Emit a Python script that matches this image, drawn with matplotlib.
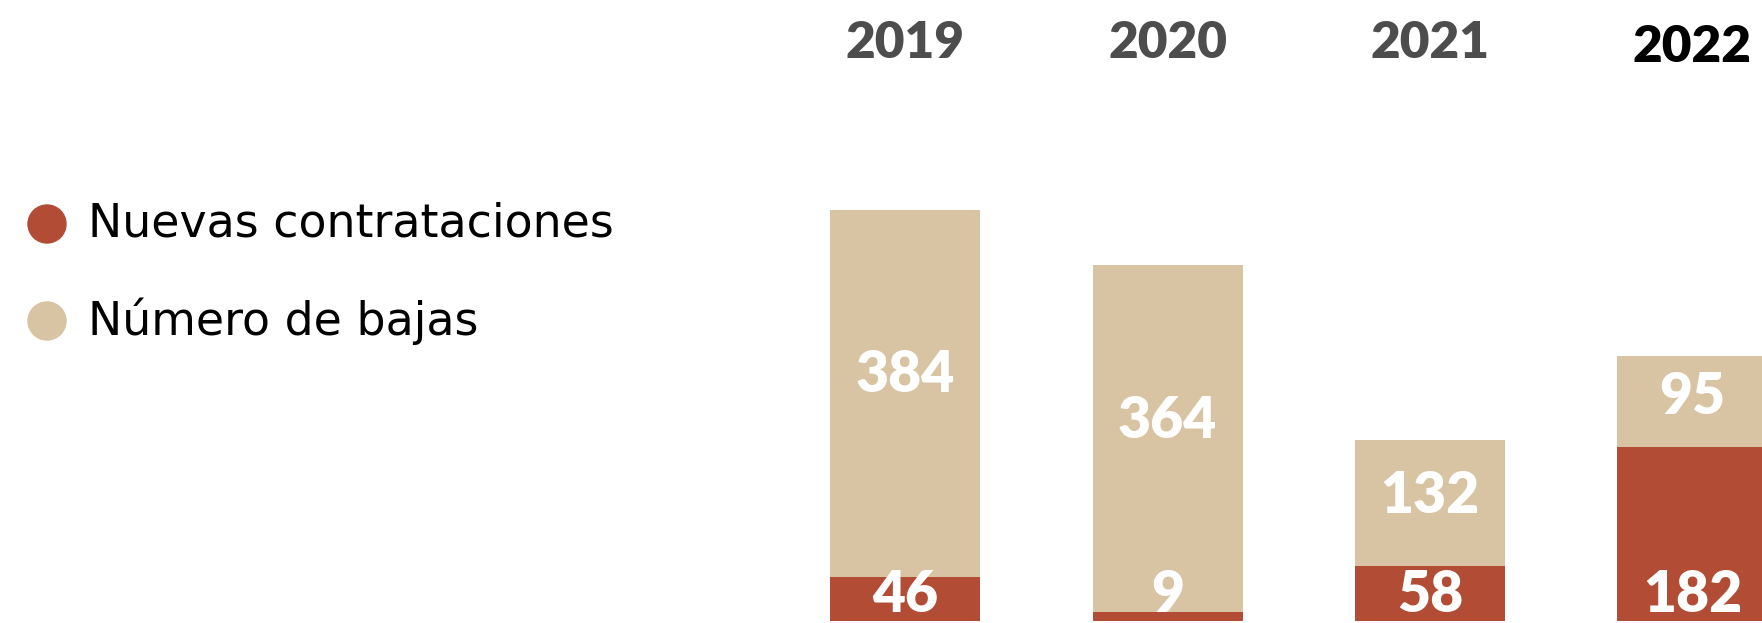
import matplotlib.pyplot as plt
from matplotlib.patches import Ellipse

# data
years = ["2019", "2020", "2021", "2022"]
nuevas = [46, 9, 58, 182]
bajas = [384, 364, 132, 95]
legend_labels = ["Nuevas contrataciones", "Número de bajas"]

red = "#B34C34"
tan = "#D8C4A2"
font = "Lato"

W, H = 1762, 623
fig = plt.figure(figsize=(W / 100, H / 100), dpi=100)
ax = fig.add_axes([0, 0, 1, 1])
ax.set_xlim(-3.449, 3.265)
ax.set_ylim(-2, 650)
ax.axis("off")

x = list(range(len(years)))
ax.bar(x, nuevas, width=0.572, color=red)
ax.bar(x, bajas, width=0.572, bottom=nuevas, color=tan)

for i in x:
    # value labels
    ax.text(i, nuevas[i] + bajas[i] * 0.55, str(bajas[i]), ha="center", va="center",
            color="white", fontsize=41, fontweight="heavy", family=font)
    ax.text(i, 27, str(nuevas[i]), ha="center", va="center",
            color="white", fontsize=41, fontweight="heavy", family=font)
    # year headers
    last = i == len(years) - 1
    ax.text(i, 601 if last else 605, years[i], ha="center", va="center",
            color="black" if last else "#4D4D4D", fontsize=37,
            fontweight="heavy", family=font)

# legend drawn by hand
for k, (lab, c) in enumerate(zip(legend_labels, [red, tan])):
    yy = 1 - (224 + 97 * k) / H
    fig.patches.append(Ellipse((47 / W, yy), 38 / W, 38 / H, color=c,
                               transform=fig.transFigure, figure=fig))
    fig.text(88 / W, yy, lab, ha="left", va="center", color="black",
             fontsize=33, family="DejaVu Sans")

fig.savefig("out.png", dpi=100)
